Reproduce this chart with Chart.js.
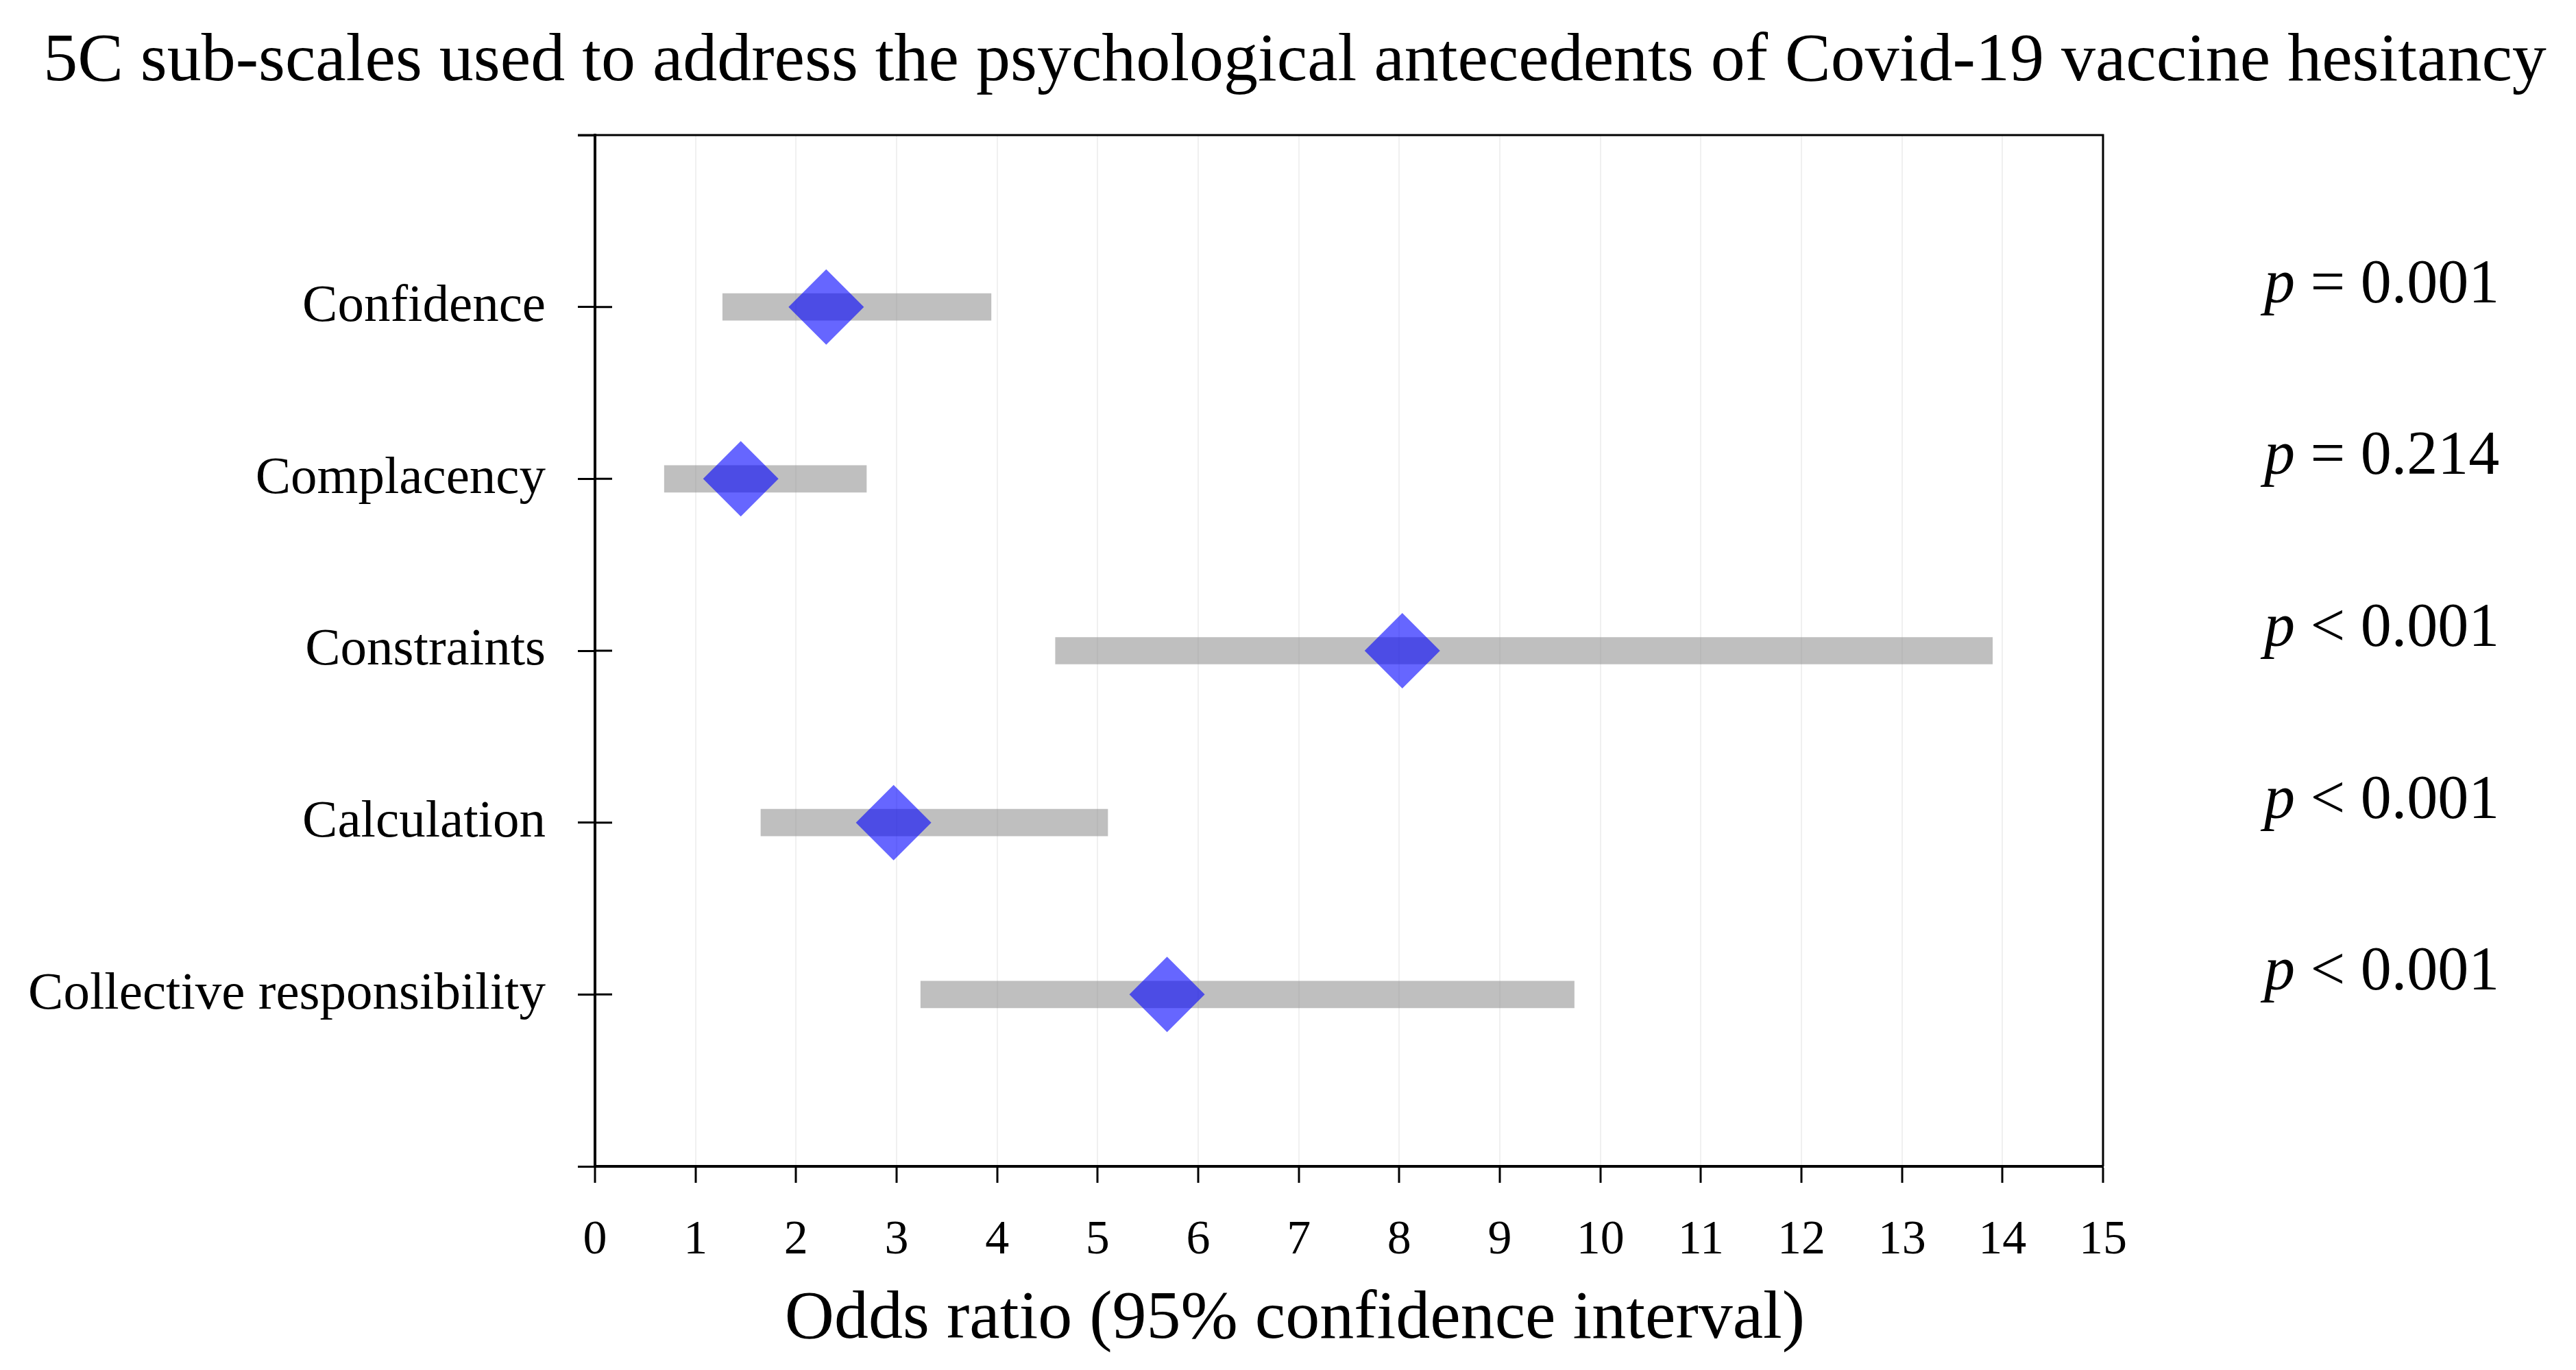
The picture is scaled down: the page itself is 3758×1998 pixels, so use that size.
<!DOCTYPE html>
<html>
<head>
<meta charset="utf-8">
<script src="https://cdn.jsdelivr.net/npm/chart.js@4.4.1/dist/chart.umd.min.js"></script>
<style>
  html, body { margin: 0; padding: 0; background: #fff; }
  canvas { display: block; }
</style>
</head>
<body>
<canvas id="c" width="3758" height="1998"></canvas>
<script>
// values
const categories = ['Confidence', 'Complacency', 'Constraints', 'Calculation', 'Collective responsibility'];
const oddsRatio = [2.30, 1.45, 8.03, 2.97, 5.69];
const ciLow = [1.27, 0.69, 4.58, 1.65, 3.24];
const ciHigh = [3.94, 2.70, 13.90, 5.10, 9.74];
const pSign = ['=', '=', '<', '<', '<'];
const pValue = ['0.001', '0.214', '0.001', '0.001', '0.001'];

const FONT = "'Liberation Serif', 'DejaVu Serif', serif";

// top/right frame, inner half of the y ticks, p-value column
const frameAndP = {
  id: 'frameAndP',
  afterDraw(chart) {
    const { ctx, chartArea: a, scales: { y } } = chart;
    ctx.save();
    ctx.strokeStyle = '#000';
    ctx.lineWidth = 3;
    ctx.beginPath();
    ctx.moveTo(a.left - 25, a.top);
    ctx.lineTo(a.right, a.top);
    ctx.lineTo(a.right, a.bottom);
    y.ticks.forEach(t => {
      const py = y.getPixelForValue(t.value);
      ctx.moveTo(a.left, py);
      ctx.lineTo(a.left + 25, py);
    });
    ctx.stroke();

    ctx.fillStyle = '#000';
    ctx.textBaseline = 'alphabetic';
    ctx.textAlign = 'left';
    categories.forEach((c, i) => {
      const py = y.getPixelForValue(i + 1) - 7;
      let px = a.right + 235;
      ctx.font = `italic 90px ${FONT}`;
      ctx.fillText('p', px, py);
      px += ctx.measureText('p ').width;
      ctx.font = `90px ${FONT}`;
      ctx.fillText(`${pSign[i]} ${pValue[i]}`, px, py);
    });
    ctx.restore();
  }
};

new Chart(document.getElementById('c'), {
  type: 'bar',
  data: {
    datasets: [
      {
        type: 'scatter',
        label: 'Odds ratio',
        data: categories.map((c, i) => ({ x: oddsRatio[i], y: i + 1 })),
        pointStyle: 'rectRot',
        pointRadius: 55,
        pointBackgroundColor: 'rgba(0, 0, 255, 0.6)',
        pointBorderWidth: 0,
        order: 0
      },
      {
        type: 'bar',
        label: '95% CI',
        indexAxis: 'y',
        data: categories.map((c, i) => ({ y: i + 1, x: [ciLow[i], ciHigh[i]] })),
        backgroundColor: 'rgba(128, 128, 128, 0.5)',
        borderWidth: 0,
        barThickness: 39,
        order: 1
      }
    ]
  },
  options: {
    indexAxis: 'y',
    responsive: false,
    devicePixelRatio: 1,
    animation: false,
    events: [],
    layout: { padding: { left: 20 } },
    plugins: {
      legend: { display: false },
      tooltip: { enabled: false },
      title: {
        display: true,
        text: '5C sub-scales used to address the psychological antecedents of Covid-19 vaccine hesitancy',
        color: '#000',
        font: { family: FONT, size: 100, weight: 'normal' },
        padding: { top: 31, bottom: 46 }
      },
      subtitle: {
        display: true,
        position: 'bottom',
        text: 'Odds ratio (95% confidence interval)',
        color: '#000',
        font: { family: FONT, size: 100, weight: 'normal' },
        padding: { top: 0, bottom: 13 }
      }
    },
    scales: {
      x: {
        type: 'linear',
        position: 'bottom',
        min: 0,
        max: 15,
        offset: false,
        ticks: { stepSize: 1, color: '#000', padding: 43, font: { family: FONT, size: 70 } },
        grid: { color: 'rgba(0, 0, 0, 0.06)', lineWidth: 2, tickColor: '#000', tickLength: 24, tickWidth: 3 },
        border: { color: '#000', width: 4 },
        afterFit(scale) { scale.height = 164; }
      },
      y: {
        type: 'linear',
        position: 'left',
        min: 0,
        max: 6,
        reverse: true,
        offset: false,
        ticks: {
          stepSize: 1,
          autoSkip: false,
          color: '#000',
          padding: 47,
          font: { family: FONT, size: 77 },
          callback: v => categories[v - 1] || ''
        },
        grid: { drawOnChartArea: false, offset: false, tickColor: '#000', tickLength: 25, tickWidth: 3 },
        border: { color: '#000', width: 4 },
        afterFit(scale) { scale.width = 848; }
      },
      yRight: {
        type: 'linear',
        position: 'right',
        display: true,
        ticks: { display: false },
        grid: { display: false },
        border: { display: false },
        afterFit(scale) { scale.width = 690; }
      }
    }
  },
  plugins: [frameAndP]
});
</script>
</body>
</html>
